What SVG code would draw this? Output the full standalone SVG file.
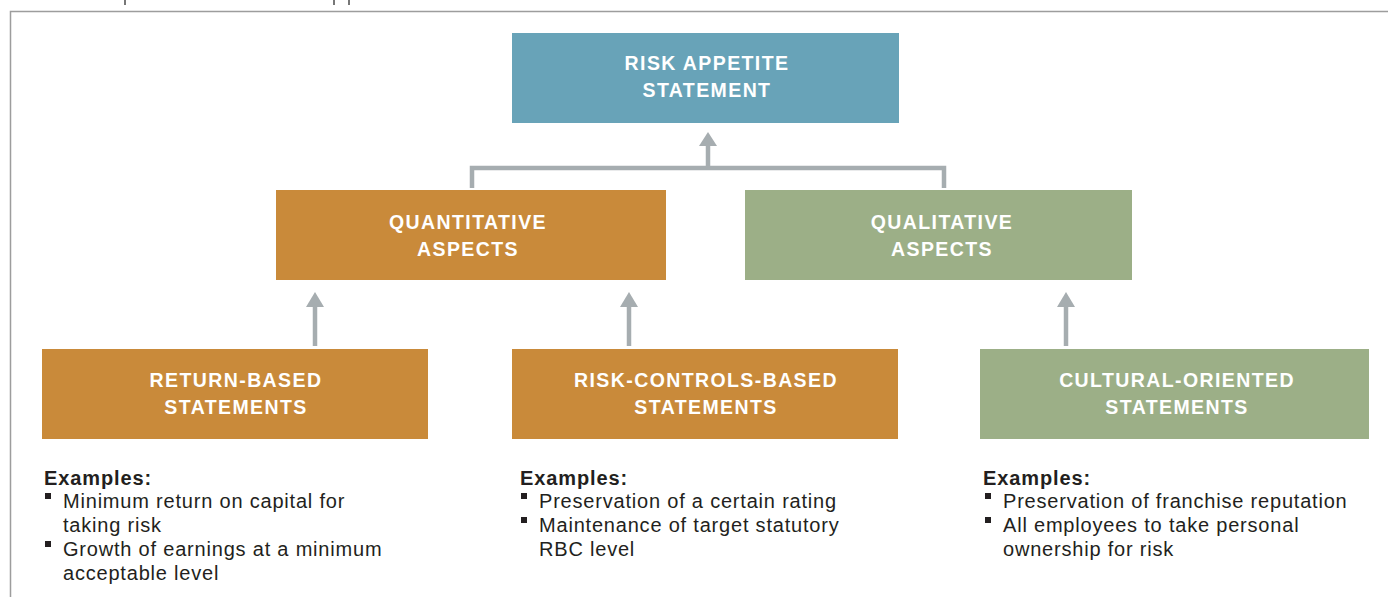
<svg xmlns="http://www.w3.org/2000/svg" width="1388" height="597" viewBox="0 0 1388 597">
<defs>
<style>
.title{font-family:"Liberation Sans",Arial,sans-serif;font-weight:bold;font-size:19.5px;fill:#ffffff;letter-spacing:1.4px;text-anchor:middle}
.ex{font-family:"Liberation Sans",Arial,sans-serif;font-size:20px;fill:#231f20;letter-spacing:0.8px}
.exh{font-family:"Liberation Sans",Arial,sans-serif;font-size:20px;font-weight:bold;fill:#231f20;letter-spacing:0.9px}
.blue{fill:#68a3b8}
.orange{fill:#c98a3a}
.green{fill:#9caf87}
.conn{fill:none;stroke:#a6adb0;stroke-width:4.5}
.head{fill:#a6adb0}
.bul{fill:#231f20}
</style>
</defs>
<rect width="1388" height="597" fill="#ffffff"/>
<g id="frame">
<path d="M10.5 597 V11.5 H1388" fill="none" stroke="#9d9d9d" stroke-width="1.5"/>
<rect x="124" y="0" width="2" height="5" fill="#777"/>
<rect x="333" y="0" width="2" height="5" fill="#777"/>
<rect x="348" y="0" width="2" height="5" fill="#777"/>
</g>
<g id="connectors">
<path class="conn" d="M472 188 V168 H944 V188"/>
<path class="conn" d="M708 168 V144"/>
<polygon class="head" points="708,132 699,146 717,146"/>
<path class="conn" d="M315 346 V305"/>
<polygon class="head" points="315,292 306,307 324,307"/>
<path class="conn" d="M629 346 V305"/>
<polygon class="head" points="629,292 620,307 638,307"/>
<path class="conn" d="M1066 346 V305"/>
<polygon class="head" points="1066,292 1057,307 1075,307"/>
</g>
<g id="risk-appetite-statement">
<rect class="blue" x="512" y="33" width="387" height="90"/>
<text class="title" x="707" y="70">RISK APPETITE</text>
<text class="title" x="707" y="97">STATEMENT</text>
</g>
<g id="quantitative-aspects">
<rect class="orange" x="276" y="190" width="390" height="90"/>
<text class="title" x="468" y="229">QUANTITATIVE</text>
<text class="title" x="468" y="256">ASPECTS</text>
</g>
<g id="qualitative-aspects">
<rect class="green" x="745" y="190" width="387" height="90"/>
<text class="title" x="942" y="229">QUALITATIVE</text>
<text class="title" x="942" y="256">ASPECTS</text>
</g>
<g id="return-based">
<rect class="orange" x="42" y="349" width="386" height="90"/>
<text class="title" x="236" y="387">RETURN-BASED</text>
<text class="title" x="236" y="414">STATEMENTS</text>
</g>
<g id="risk-controls-based">
<rect class="orange" x="512" y="349" width="386" height="90"/>
<text class="title" x="706" y="387">RISK-CONTROLS-BASED</text>
<text class="title" x="706" y="414">STATEMENTS</text>
</g>
<g id="cultural-oriented">
<rect class="green" x="980" y="349" width="389" height="90"/>
<text class="title" x="1177" y="387">CULTURAL-ORIENTED</text>
<text class="title" x="1177" y="414">STATEMENTS</text>
</g>
<g id="examples-return">
<text class="exh" x="44" y="485">Examples:</text>
<rect class="bul" x="45" y="493" width="6" height="6"/>
<text class="ex" x="63" y="508">Minimum return on capital for</text>
<text class="ex" x="63" y="532">taking risk</text>
<rect class="bul" x="45" y="541" width="6" height="6"/>
<text class="ex" x="63" y="556">Growth of earnings at a minimum</text>
<text class="ex" x="63" y="580">acceptable level</text>
</g>
<g id="examples-risk-controls">
<text class="exh" x="520" y="485">Examples:</text>
<rect class="bul" x="521" y="493" width="6" height="6"/>
<text class="ex" x="539" y="508">Preservation of a certain rating</text>
<rect class="bul" x="521" y="517" width="6" height="6"/>
<text class="ex" x="539" y="532">Maintenance of target statutory</text>
<text class="ex" x="539" y="556">RBC level</text>
</g>
<g id="examples-cultural">
<text class="exh" x="983" y="485">Examples:</text>
<rect class="bul" x="985" y="493" width="6" height="6"/>
<text class="ex" x="1003" y="508">Preservation of franchise reputation</text>
<rect class="bul" x="985" y="517" width="6" height="6"/>
<text class="ex" x="1003" y="532">All employees to take personal</text>
<text class="ex" x="1003" y="556">ownership for risk</text>
</g>
</svg>
